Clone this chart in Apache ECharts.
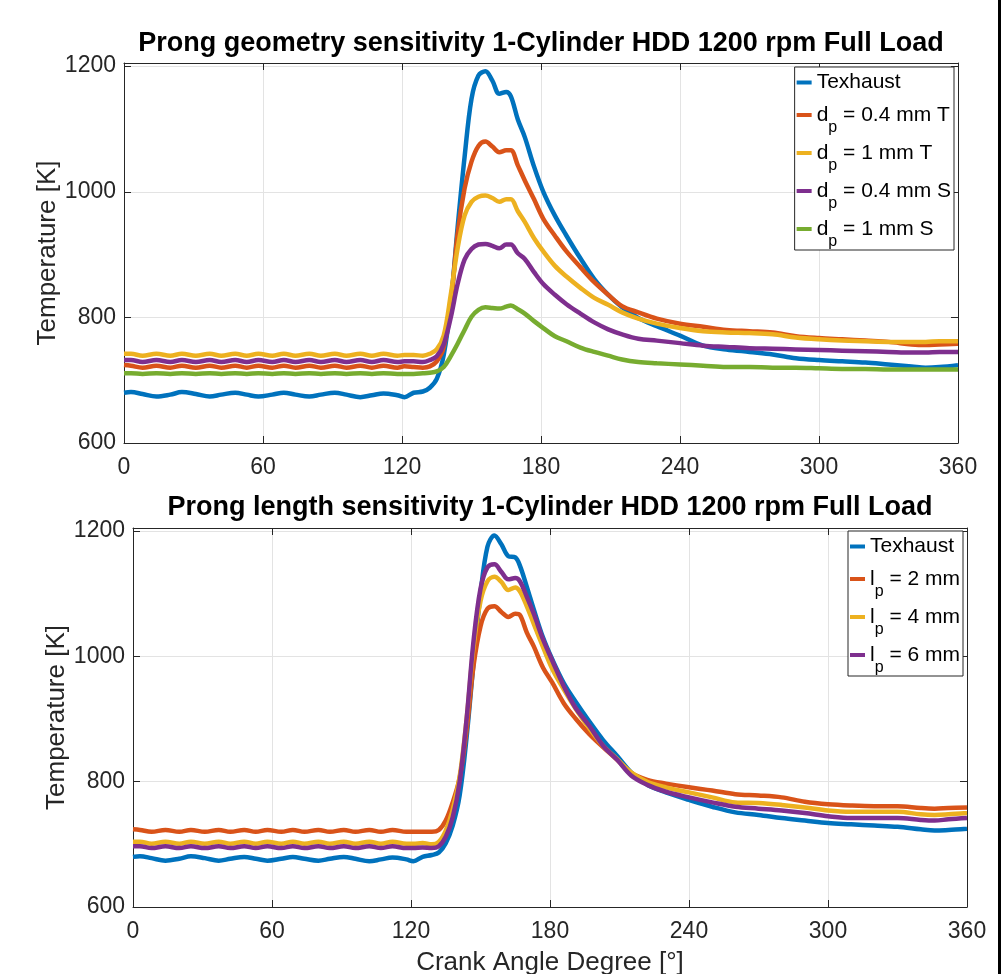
<!DOCTYPE html>
<html>
<head>
<meta charset="utf-8">
<title>Prong sensitivity</title>
<script src="https://cdn.jsdelivr.net/npm/echarts@6/dist/echarts.min.js"></script>
<style>
    html, body { margin: 0; padding: 0; background: #ffffff; }
    #chart { width: 1006px; height: 974px; }
</style>
</head>
<body>
<div id="chart"></div>
<script>
// crank angle samples, shared by every curve (deg)
var aAngle = [0, 3, 8, 14, 20, 25, 31, 37, 42, 48, 53, 58, 64, 69, 74, 80, 85, 91, 96, 102, 107, 112, 118,
    121, 125, 129, 132, 135, 138, 141, 144, 147, 150, 153, 156, 159, 162, 165, 167, 170, 173, 177, 181,
    186, 191, 197, 203, 209, 215, 222, 230, 240, 250, 260, 270, 280, 290, 300, 310, 320, 330, 340, 346, 352, 360];

// 上图：prong geometry
var aTopNames = ['Texhaust', 'd_p = 0.4 mm T', 'd_p = 1 mm T', 'd_p = 0.4 mm S', 'd_p = 1 mm S'];
var aTopExhaust = [680, 681, 678, 674, 677, 681, 678, 674, 677, 680, 677, 674, 677, 680, 677, 674, 677, 680, 677, 673, 676, 679, 676,
    673, 680, 682, 688, 702, 740, 820, 943, 1055, 1148, 1185, 1192, 1177, 1156, 1159, 1152, 1115, 1087, 1040, 1000,
    962, 930, 894, 861, 836, 816, 799, 786, 771, 755, 749, 745, 741, 735, 732, 730, 728, 725, 722, 720, 721, 724];
var aTopD04T = [724, 723, 720, 723, 720, 723, 720, 723, 720, 723, 720, 723, 720, 723, 720, 723, 720, 723, 720, 723, 720, 723, 720,
    722, 721, 720, 722, 730, 752, 820, 933, 1005, 1048, 1073, 1080, 1072, 1063, 1066, 1066, 1042, 1018, 988, 957,
    930, 905, 880, 856, 836, 818, 808, 798, 790, 785, 780, 778, 776, 770, 767, 765, 763, 761, 757, 756, 757, 758];
var aTopD1T = [742, 742, 739, 742, 739, 742, 739, 742, 739, 742, 739, 742, 739, 742, 739, 742, 739, 742, 739, 742, 739, 742, 739,
    740, 740, 739, 742, 749, 771, 835, 910, 962, 984, 992, 994, 990, 984, 988, 988, 969, 952, 926, 905,
    882, 865, 847, 831, 820, 808, 798, 790, 783, 778, 776, 775, 773, 768, 765, 763, 762, 761, 761, 761, 762, 762];
var aTopD04S = [732, 732, 729, 732, 729, 732, 729, 732, 729, 732, 729, 732, 729, 732, 729, 732, 729, 732, 729, 732, 729, 732, 729,
    730, 730, 729, 732, 738, 757, 799, 853, 892, 909, 916, 917, 914, 910, 916, 916, 902, 893, 872, 853,
    836, 821, 806, 792, 781, 773, 766, 763, 759, 755, 753, 751, 750, 749, 748, 747, 746, 745, 744, 744, 745, 745];
var aTopD1S = [711, 711, 710, 711, 710, 711, 710, 711, 710, 711, 710, 711, 710, 711, 710, 711, 710, 711, 710, 711, 710, 711, 710,
    710, 710, 711, 712, 714, 721, 738, 758, 780, 801, 812, 816, 815, 814, 817, 819, 813, 806, 794, 783,
    770, 762, 752, 745, 739, 733, 729, 727, 725, 723, 721, 721, 720, 720, 719, 718, 718, 717, 717, 717, 717, 717];

// 下图：prong length
var aBottomNames = ['Texhaust', 'l_p = 2 mm', 'l_p = 4 mm', 'l_p = 6 mm'];
var aBottomExhaust = [680, 681, 678, 674, 677, 681, 678, 674, 677, 680, 677, 674, 677, 680, 677, 674, 677, 680, 677, 673, 676, 679, 676,
    673, 680, 683, 687, 702, 730, 778, 871, 990, 1100, 1175, 1193, 1179, 1160, 1158, 1145, 1111, 1075, 1030, 995,
    957, 928, 896, 866, 841, 815, 795, 783, 771, 760, 751, 747, 742, 738, 734, 732, 730, 728, 724, 722, 723, 725];
var aBottomL2 = [724, 723, 720, 723, 720, 723, 720, 723, 720, 723, 720, 723, 720, 723, 720, 723, 720, 723, 720, 723, 720, 723, 720,
    720, 720, 720, 723, 738, 767, 806, 882, 985, 1048, 1076, 1080, 1071, 1063, 1068, 1066, 1038, 1016, 982, 958,
    925, 901, 876, 855, 835, 814, 803, 797, 791, 786, 780, 778, 775, 768, 764, 762, 761, 761, 758, 757, 758, 759];
var aBottomL4 = [704, 704, 701, 704, 701, 704, 701, 704, 701, 704, 701, 704, 701, 704, 701, 704, 701, 704, 701, 704, 701, 704, 701,
    701, 702, 700, 704, 722, 755, 808, 900, 1015, 1088, 1120, 1127, 1119, 1106, 1110, 1104, 1080, 1052, 1015, 980,
    947, 917, 885, 857, 836, 815, 800, 791, 783, 775, 767, 766, 763, 759, 754, 752, 752, 752, 748, 747, 748, 750];
var aBottomL6 = [697, 697, 694, 697, 694, 697, 694, 697, 694, 697, 694, 697, 694, 697, 694, 697, 694, 697, 694, 697, 694, 697, 694,
    694, 695, 694, 697, 712, 743, 800, 900, 1025, 1108, 1142, 1147, 1135, 1123, 1125, 1120, 1095, 1068, 1027, 993,
    952, 918, 889, 857, 835, 810, 795, 784, 775, 767, 760, 757, 754, 750, 745, 742, 742, 742, 739, 738, 740, 742];

var aTopTitle = 'Prong geometry sensitivity 1-Cylinder HDD 1200 rpm Full Load';
var aBottomTitle = 'Prong length sensitivity 1-Cylinder HDD 1200 rpm Full Load';

// matlab 默认配色
var aColors = ['#0072BD', '#D95319', '#EDB120', '#7E2F8E', '#77AC30'];
var sFont = '"Liberation Sans", Arial, Helvetica, sans-serif';
var sAxisColor = '#262626';

function Pair(aValues) {
    var aData = [];
    for (var i = 0; i < aAngle.length; i++) {
        aData.push([aAngle[i], aValues[i]]);
    }
    return aData;
}

// 'd_p = 1 mm' -> d with subscript p
function FormatLegend(sName) {
    var iPos = sName.indexOf('_');
    if (iPos < 0) {
        return '{t|' + sName + '}';
    }
    return '{n|' + sName.substring(0, iPos) + '}{s|' + sName.charAt(iPos + 1) + '}{n|' + sName.substring(iPos + 2) + '}';
}

function GetLegend(aNames, jPos) {
    var jLegend = {
        data: aNames,
        orient: 'vertical',
        top: jPos.top,
        right: jPos.right,
        itemWidth: 15,
        itemHeight: 4,
        itemGap: -4,
        icon: 'rect',
        padding: [0, 3, 0, 2],
        backgroundColor: '#ffffff',
        borderColor: sAxisColor,
        borderWidth: 1,
        borderRadius: 0,
        formatter: FormatLegend,
        textStyle: {
            fontFamily: sFont,
            color: '#000000',
            rich: {
                t: {fontFamily: sFont, fontSize: 21, lineHeight: 22, padding: [5, 0, 5, 0], color: '#000000'},
                n: {fontFamily: sFont, fontSize: 21, lineHeight: 22, color: '#000000'},
                s: {fontFamily: sFont, fontSize: 16, lineHeight: 16, padding: [26, 0, 0, 0], color: '#000000'}
            }
        }
    };
    return jLegend;
}

function GetXAxes(iGrid, bName) {
    var jMain = {
        gridIndex: iGrid,
        type: 'value',
        position: 'bottom',
        min: 0,
        max: 360,
        interval: 60,
        axisLine: {show: true, onZero: false, lineStyle: {color: sAxisColor, width: 1}},
        axisTick: {show: true, inside: true, length: 7, lineStyle: {color: sAxisColor}},
        axisLabel: {fontFamily: sFont, fontSize: 23, color: sAxisColor, margin: 13},
        splitLine: {show: true, lineStyle: {color: '#e3e3e3', width: 1}}
    };
    if (bName) {
        jMain.name = 'Crank Angle Degree [°]';
        jMain.nameLocation = 'middle';
        jMain.nameGap = 43;
        jMain.nameMoveOverlap = false;
        jMain.nameTextStyle = {fontFamily: sFont, fontSize: 26, color: sAxisColor};
    }
    var jMirror = {
        gridIndex: iGrid,
        type: 'value',
        position: 'top',
        min: 0,
        max: 360,
        interval: 60,
        axisLine: {show: true, onZero: false, lineStyle: {color: sAxisColor, width: 1}},
        axisTick: {show: true, inside: true, length: 7, lineStyle: {color: sAxisColor}},
        axisLabel: {show: false},
        splitLine: {show: false}
    };
    return [jMain, jMirror];
}

function GetYAxes(iGrid) {
    var jMain = {
        gridIndex: iGrid,
        type: 'value',
        position: 'left',
        min: 600,
        max: 1205,
        interval: 200,
        name: 'Temperature [K]',
        nameLocation: 'middle',
        nameGap: 63,
        nameMoveOverlap: false,
        nameTextStyle: {fontFamily: sFont, fontSize: 26, color: sAxisColor},
        axisLine: {show: true, onZero: false, lineStyle: {color: sAxisColor, width: 1}},
        axisTick: {show: true, inside: true, length: 7, lineStyle: {color: sAxisColor}},
        axisLabel: {
            fontFamily: sFont, fontSize: 23, color: sAxisColor, margin: 8, showMaxLabel: false,
            formatter: function (v) { return String(v); }
        },
        splitLine: {show: true, lineStyle: {color: '#e3e3e3', width: 1}}
    };
    var jMirror = {
        gridIndex: iGrid,
        type: 'value',
        position: 'right',
        min: 600,
        max: 1205,
        interval: 200,
        axisLine: {show: true, onZero: false, lineStyle: {color: sAxisColor, width: 1}},
        axisTick: {show: true, inside: true, length: 7, lineStyle: {color: sAxisColor}},
        axisLabel: {show: false},
        splitLine: {show: false}
    };
    return [jMain, jMirror];
}

function GetSeries(aNames, aValueLists, iAxis) {
    var aSeries = [];
    for (var i = 0; i < aNames.length; i++) {
        aSeries.push({
            name: aNames[i],
            type: 'line',
            xAxisIndex: iAxis,
            yAxisIndex: iAxis,
            data: Pair(aValueLists[i]),
            smooth: 0.35,
            showSymbol: false,
            symbol: 'none',
            lineStyle: {width: 4.5, color: aColors[i]},
            itemStyle: {color: aColors[i]},
            z: 2 + i
        });
    }
    return aSeries;
}

function GetOption() {
    var aTopSeries = GetSeries(aTopNames, [aTopExhaust, aTopD04T, aTopD1T, aTopD04S, aTopD1S], 0);
    var aBottomSeries = GetSeries(aBottomNames, [aBottomExhaust, aBottomL2, aBottomL4, aBottomL6], 2);

    var jOption = {
        animation: false,
        backgroundColor: '#ffffff',
        color: aColors,
        title: [
            {
                text: aTopTitle, left: 541, top: 30, textAlign: 'center', padding: 0,
                textStyle: {fontFamily: sFont, fontSize: 27, fontWeight: 'bold', color: '#000000'}
            },
            {
                text: aBottomTitle, left: 550, top: 494, textAlign: 'center', padding: 0,
                textStyle: {fontFamily: sFont, fontSize: 27, fontWeight: 'bold', color: '#000000'}
            }
        ],
        // outerBoundsMode none: 固定绘图区，不因为坐标轴名称而缩小
        grid: [
            {left: 124, right: 48, top: 63, height: 380, containLabel: false, outerBoundsMode: 'none'},
            {left: 133, right: 39, top: 528, height: 379, containLabel: false, outerBoundsMode: 'none'}
        ],
        legend: [
            GetLegend(aTopNames, {top: 67, right: 52}),
            GetLegend(aBottomNames, {top: 531, right: 43})
        ],
        xAxis: GetXAxes(0, false).concat(GetXAxes(1, true)),
        yAxis: GetYAxes(0).concat(GetYAxes(1)),
        graphic: [
            // 右侧的黑色竖线
            {type: 'rect', shape: {x: 998, y: 0, width: 3, height: 974}, style: {fill: '#000000'}, silent: true}
        ],
        series: aTopSeries.concat(aBottomSeries)
    };
    return jOption;
}

var oChart = echarts.init(document.getElementById('chart'));
oChart.setOption(GetOption());
</script>
</body>
</html>
